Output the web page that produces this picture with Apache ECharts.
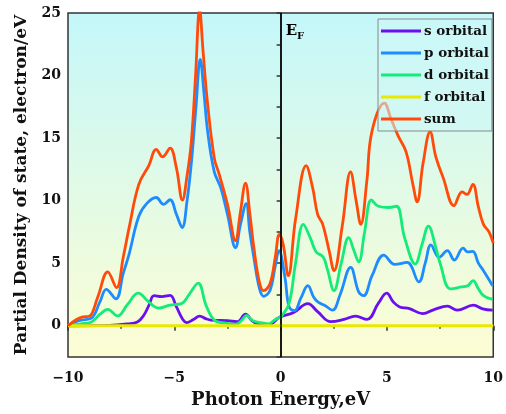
<!DOCTYPE html>
<html>
<head>
<meta charset="utf-8">
<script src="https://cdn.jsdelivr.net/npm/echarts@6/dist/echarts.min.js"></script>
<style>
  html, body { margin: 0; padding: 0; background: #fff; }
  #pdos { width: 506px; height: 414px; }
</style>
</head>
<body>
<div id="pdos"></div>
<script>
// partial DOS, [energy (eV), states/eV]
const sOrbital = [[-10,0],[-8.06,0.03],[-7.2,0.15],[-6.74,0.3],[-6.45,0.8],[-6.2,1.6],[-5.95,2.4],[-5.59,2.33],[-5.2,2.43],[-4.9,1.5],[-4.6,0.5],[-4.43,0.25],[-4.1,0.5],[-3.81,0.77],[-3.5,0.55],[-3.27,0.45],[-2.5,0.4],[-2.04,0.32],[-1.65,0.92],[-1.35,0.4],[-1.11,0.18],[-0.57,0.08],[-0.03,0.7],[0.59,1.03],[1.28,1.76],[1.75,1.1],[2.36,0.32],[2.98,0.5],[3.52,0.77],[4.06,0.5],[4.6,1.8],[4.99,2.6],[5.3,1.9],[5.6,1.5],[6.06,1.37],[6.68,0.97],[7.22,1.29],[7.84,1.56],[8.3,1.24],[9.07,1.64],[9.5,1.35],[9.97,1.24]];
const pOrbital = [[-10,0],[-9.6,0.35],[-9.37,0.45],[-8.9,0.6],[-8.5,1.9],[-8.2,2.9],[-7.75,2.15],[-7.4,4.2],[-7.13,5.7],[-6.67,8.75],[-6.28,9.8],[-5.85,10.25],[-5.51,9.7],[-5.2,10.07],[-4.9,8.9],[-4.63,7.85],[-4.4,10],[-4.2,13],[-3.98,17.5],[-3.78,21.3],[-3.6,18.5],[-3.43,15.5],[-3.12,12.3],[-2.81,11],[-2.5,8.9],[-2.12,6.25],[-1.9,8],[-1.62,9.75],[-1.45,7.5],[-1.26,5.46],[-1.0,3],[-0.8,2.35],[-0.5,2.82],[-0.25,4.8],[-0.08,6],[0.2,3.9],[0.4,1.5],[0.65,1.2],[0.95,2.2],[1.28,3.2],[1.55,2.3],[1.75,1.9],[2.1,1.6],[2.44,1.24],[2.8,2.5],[3.29,4.67],[3.67,2.7],[3.9,2.4],[4.3,4],[4.85,5.65],[5.37,4.9],[5.95,5.06],[6.5,3.5],[6.8,5],[7.07,6.46],[7.45,5.46],[7.84,6.0],[8.17,5.25],[8.58,6.2],[8.8,5.9],[9.04,5.95],[9.3,5],[9.54,4.4],[9.97,3.2]];
const dOrbital = [[-10,0],[-9.4,0.15],[-8.9,0.3],[-8.5,0.9],[-8.13,1.3],[-7.67,0.78],[-7.2,1.7],[-6.7,2.6],[-6.2,1.9],[-5.74,1.4],[-5.2,1.65],[-4.66,1.77],[-4.3,2.5],[-3.88,3.4],[-3.5,1.6],[-3.12,0.45],[-2.6,0.2],[-2.1,0.13],[-1.85,0.4],[-1.6,0.82],[-1.3,0.4],[-0.8,0.2],[-0.57,0.15],[-0.25,0.5],[0.03,0.75],[0.4,1.8],[0.7,5],[1.07,8.1],[1.4,7],[1.67,5.9],[2.0,5.5],[2.2,4.5],[2.51,2.8],[2.85,5],[3.2,7.04],[3.45,6],[3.67,5.1],[3.95,7.5],[4.27,10.05],[4.6,9.55],[5.1,9.45],[5.45,9.55],[5.83,7.04],[6.33,4.93],[6.65,6.5],[6.95,7.97],[7.3,6.25],[7.5,5],[7.99,2.95],[8.5,3.1],[8.8,3.2],[9.05,3.6],[9.3,2.95],[9.54,2.4],[9.97,2.1]];
const fOrbital = [[-10,0],[-5,0],[0,0],[5,0],[10,0]];
const sumDos = [[-10,0],[-9.6,0.5],[-9.3,0.7],[-9.0,0.75],[-8.6,2.3],[-8.13,4.3],[-7.72,3.05],[-7.4,5.5],[-7.13,7.8],[-6.67,11.3],[-6.2,12.8],[-5.85,14.1],[-5.55,13.5],[-5.2,14.2],[-4.9,12.6],[-4.62,10.05],[-4.4,12],[-4.2,14.7],[-4.0,20],[-3.81,25.3],[-3.65,22],[-3.45,18],[-3.12,13.4],[-2.88,12.05],[-2.5,9.7],[-2.12,6.8],[-1.9,9],[-1.65,11.4],[-1.45,9],[-1.26,6.25],[-1.0,3.5],[-0.8,2.8],[-0.5,3.35],[-0.25,5.5],[-0.06,7.3],[0.12,6.5],[0.36,4.0],[0.7,8.5],[1.2,12.8],[1.51,11],[1.74,8.9],[1.98,8.1],[2.28,6],[2.51,4.4],[2.9,8],[3.29,12.3],[3.55,10],[3.77,8.1],[4.05,11.5],[4.29,15.5],[4.88,17.8],[5.2,16.5],[5.52,15.2],[5.9,13.9],[6.22,11.3],[6.42,9.9],[6.7,13],[7.03,15.5],[7.3,13.5],[7.65,11.8],[8.15,9.6],[8.53,10.7],[8.76,10.5],[9.04,11.3],[9.3,9.5],[9.54,8.1],[9.8,7.5],[10,6.6]];
const fermiLevel = 0;

const serif = 'DejaVu Serif';
const chart = echarts.init(document.getElementById('pdos'));

function curve(name, data, color, width) {
    return {
        name: name,
        type: 'line',
        data: data,
        smooth: 0.4,
        showSymbol: false,
        lineStyle: { color: color, width: width },
        itemStyle: { color: color }
    };
}

const series = [
    curve('s orbital', sOrbital, '#6a0ff0', 2.8),
    curve('p orbital', pOrbital, '#1e8bff', 2.8),
    curve('d orbital', dOrbital, '#14eb78', 2.8),
    curve('f orbital', fOrbital, '#e8e800', 3),
    curve('sum', sumDos, '#ff4a0a', 2.8)
];
// Fermi level line + E_F label
series[0].markLine = {
    silent: true,
    symbol: 'none',
    label: { show: false },
    lineStyle: { color: '#000', width: 1.5, type: 'solid' },
    data: [{ xAxis: fermiLevel }]
};
series[0].markPoint = {
    symbol: 'circle',
    symbolSize: 0,
    data: [{ coord: [fermiLevel, 25] }],
    label: {
        show: true,
        position: 'right',
        offset: [0, 18],
        formatter: '{e|E}{f|F}',
        rich: {
            e: { fontFamily: serif, fontWeight: 'bold', fontSize: 15, color: '#000' },
            f: { fontFamily: serif, fontWeight: 'bold', fontSize: 10, color: '#000', padding: [10, 0, 0, 0] }
        }
    }
};

const tickText = { fontFamily: serif, fontWeight: 'bold', fontSize: 14, color: '#111' };
const axisLine = { show: true, lineStyle: { color: '#333', width: 1.5 } };

let option = {
    animation: false,
    grid: {
        left: 68, top: 13, right: 6, bottom: 53,
        show: true,
        borderColor: '#333',
        borderWidth: 1.5,
        backgroundColor: new echarts.graphic.LinearGradient(0, 0, 0, 1, [
            { offset: 0, color: '#c4f7fa' },
            { offset: 1, color: '#fdfdd3' }
        ])
    },
    legend: {
        orient: 'vertical',
        left: 378, top: 19,
        padding: [5, 3, 5, 3],
        itemGap: 8,
        itemWidth: 40,
        itemHeight: 3,
        icon: 'rect',
        backgroundColor: 'rgba(205,248,248,0.55)',
        borderColor: '#888',
        borderWidth: 1,
        textStyle: { fontFamily: serif, fontWeight: 'bold', fontSize: 13.5, color: '#111', padding: [0, 0, 0, -2] },
        data: ['s orbital', 'p orbital', 'd orbital', 'f orbital', 'sum']
    },
    xAxis: {
        type: 'value',
        min: -10, max: 10, interval: 5,
        name: 'Photon Energy,eV',
        nameLocation: 'middle',
        nameGap: 34,
        nameTextStyle: { fontFamily: serif, fontWeight: 'bold', fontSize: 18, color: '#111' },
        axisLine: axisLine,
        axisTick: { show: true, inside: false, length: 5, lineStyle: { color: '#333', width: 1.5 } },
        minorTick: { show: true, splitNumber: 2, length: 3, lineStyle: { color: '#333', width: 1.5 } },
        splitLine: { show: false },
        axisLabel: Object.assign({ margin: 14, formatter: v => String(v).replace('-', '\u2212') }, tickText)
    },
    yAxis: {
        type: 'value',
        min: -2.5, max: 25, interval: 2.5,
        name: 'Partial Density of state, electron/eV',
        nameLocation: 'middle',
        nameGap: 38,
        nameTextStyle: { fontFamily: serif, fontWeight: 'bold', fontSize: 17, color: '#111' },
        axisLine: axisLine,
        axisTick: { show: true, inside: false, length: 4, lineStyle: { color: '#333', width: 1.5 } },
        splitLine: { show: false },
        axisLabel: Object.assign({ margin: 7, formatter: v => (Math.abs(v % 5) < 1e-6 ? String(v) : '') }, tickText)
    },
    series: series
};

chart.setOption(option);
</script>
</body>
</html>
